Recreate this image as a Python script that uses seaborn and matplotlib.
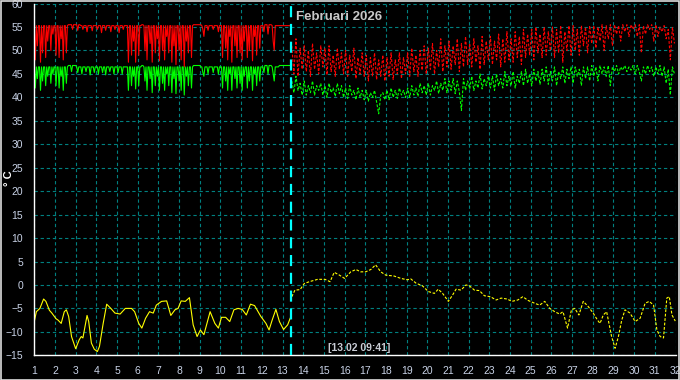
"""Februari 2026 temperature log: supply / return / outdoor."""

import matplotlib

matplotlib.use("Agg")
import matplotlib.pyplot as plt
import numpy as np
import seaborn as sns
from matplotlib.patches import Rectangle
from matplotlib.ticker import MultipleLocator

# supply (red) and return (green), logged every 0.05 day from day 1.00 to 13.35
supply_measured = [
    55.3, 48, 55.3, 51, 55.3, 55.3, 47.5, 55.3, 49.5, 55.3, 55.3, 48.5, 55.3, 52, 55.3, 55.3, 50, 55.3, 53.5, 55.3,
    55.3, 49, 55.3, 55.3, 48.5, 55.3, 52.5, 55.3, 48, 55.3, 55.3, 49.5, 55.3, 55.5, 55.5, 55.5, 55.5, 54.5, 55.5, 55.5,
    55.5, 55.5, 54.3, 55.5, 55.5, 55.3, 55.3, 54.5, 55.3, 55.3, 55.3, 54, 55.3, 55.3, 55.3, 55.3, 54.2, 55.3, 55.3, 55.3,
    55.3, 54.5, 55.3, 55.3, 55.3, 53.8, 55.3, 55.3, 55.3, 54.3, 55.3, 55.3, 55.3, 55.3, 54, 55.3, 55.3, 55.3, 54.5, 55.3,
    55.3, 55.3, 53.8, 55.3, 55.3, 55.3, 54.5, 55.3, 55.3, 55.3, 55.3, 47.5, 55.3, 55.3, 49, 55.3, 52, 55.3, 47.5, 55.3,
    55.3, 49, 55.3, 55.3, 55.5, 55.5, 55.3, 50, 55.3, 48, 55.3, 55.3, 51.5, 55.3, 47.5, 55.3, 55.3, 49.5, 55.3, 52.5,
    55.3, 47.8, 55.3, 55.3, 50, 55.3, 48, 55.3, 53, 55.3, 49.5, 55.3, 55.3, 47.5, 55.3, 51, 55.3, 47, 55.3, 55.3,
    50, 55.3, 48, 55.3, 55.3, 46.5, 55.3, 52, 55.3, 49.5, 55.3, 55.3, 48.5, 55.3, 55.5, 55.5, 55.5, 55.5, 55.5, 55.5,
    55.5, 55.5, 55.3, 54.5, 53, 55.3, 55.3, 55.3, 54.3, 55.3, 55.3, 55.3, 55.3, 54.5, 55.3, 55.3, 55.3, 55.3, 54, 55.3,
    55.3, 55.3, 48.5, 55.3, 55.3, 50.5, 55.3, 48, 55.3, 53, 55.3, 47.5, 55.3, 55.3, 51, 55.3, 48.5, 55.3, 55.3, 49.5,
    55.3, 48, 55.3, 52, 55.3, 55.3, 48.5, 55.3, 50, 55.3, 55.3, 47.8, 55.3, 53, 55.3, 49, 55.3, 55.3, 50.5, 55.3,
    55.3, 55.3, 54, 55.5, 55.5, 55.5, 53.5, 55.5, 55.5, 55.5, 55.3, 52, 50, 55.3, 55.3, 55.3, 55.3, 55.3, 55.3, 55.3,
    55.3, 55.3, 55.3, 55.3, 55.3, 55.3, 55.3, 55.3,
]
return_measured = [
    46.5, 42, 46.5, 44, 46.5, 46.5, 41.5, 46.5, 43.5, 46.5, 46.5, 42.5, 46.5, 44.5, 46.5, 46.5, 43, 46.5, 45, 46.5,
    46.5, 42.5, 46.5, 46.5, 42, 46.5, 44.5, 46.5, 41.5, 46.5, 46.5, 43, 46.5, 46.8, 46.8, 46.8, 45.5, 46.8, 46.8, 46.8,
    46.8, 46.5, 45.3, 46.5, 46.5, 46.5, 45, 46.5, 46.5, 46.5, 45.5, 46.5, 46.5, 46.5, 44.8, 46.5, 46.5, 46.5, 45.3, 46.5,
    46.5, 46.5, 45, 46.5, 46.5, 46.5, 45.3, 46.5, 46.5, 44.8, 46.5, 46.5, 46.5, 45.5, 46.5, 46.5, 46.5, 45, 46.5, 46.5,
    46.5, 45.3, 46.5, 46.5, 46.5, 45, 46.5, 46.5, 46.5, 46.5, 46.5, 41.5, 46.5, 46.5, 42.5, 46.5, 44.5, 46.5, 41.8, 46.5,
    46.5, 42.5, 46.5, 46.5, 46.8, 46.8, 46.5, 43.5, 46.5, 41.5, 46.5, 46.5, 44, 46.5, 41, 46.5, 46.5, 42.5, 46.5, 44.5,
    46.5, 41.5, 46.5, 46.5, 43, 46.5, 41.5, 46.5, 45, 46.5, 42.5, 46.5, 46.5, 41, 46.5, 44, 46.5, 40.8, 46.5, 46.5,
    43.5, 46.5, 41.5, 46.5, 46.5, 40.5, 46.5, 44.5, 46.5, 42.5, 46.5, 46.5, 42, 46.5, 46.8, 46.8, 46.8, 46.8, 46.8, 46.8,
    46.8, 46.5, 46.5, 45.3, 44.5, 46.5, 46.5, 46.5, 45, 46.5, 46.5, 46.5, 46.5, 45.3, 46.5, 46.5, 46.5, 46.5, 45, 46.5,
    46.5, 46.5, 42, 46.5, 46.5, 43.5, 46.5, 41.5, 46.5, 45, 46.5, 41.5, 46.5, 46.5, 44, 46.5, 42, 46.5, 46.5, 43,
    46.5, 41.5, 46.5, 44.5, 46.5, 46.5, 42, 46.5, 43.5, 46.5, 46.5, 41.5, 46.5, 45, 46.5, 42.5, 46.5, 46.5, 43.5, 46.5,
    46.5, 46.5, 45.3, 46.8, 46.8, 46.8, 45, 46.8, 46.8, 46.8, 46.5, 45, 43.5, 46.5, 46.5, 46.5, 46.5, 46.8, 46.8, 46.8,
    46.8, 46.8, 46.8, 46.8, 46.8, 46.8, 46.8, 46.8,
]

# after 13.02 09:41 the log is sparser: every 0.1 day from 13.45 to 31.95
supply_later = [
    51, 45, 52.5, 44.5, 50.5, 46,
    51, 45.5, 50, 44.5, 51.5, 46, 49.5, 45, 51, 46.5,
    50.5, 44.8, 51, 45.5, 49, 44.5, 50.5, 46, 49.5, 45,
    50, 44.5, 49, 45.5, 50.5, 44, 48.5, 45, 49.5, 44.5,
    49, 43.5, 48.5, 44.5, 49.5, 43.8, 48, 44.5, 49, 43.5,
    48.5, 44.5, 49.5, 43.8, 48, 45, 49.5, 44, 48.5, 45,
    49.5, 44.5, 50.5, 45.5, 49, 44.5, 50, 45.8, 51, 45,
    50.5, 46, 51.5, 45, 50, 46.5, 52.5, 45.5, 51, 46.5,
    52, 46, 51, 47, 52.5, 45.5, 51.5, 46.5, 53, 47,
    51.5, 46.5, 52.5, 47.5, 51, 46, 53, 47, 52, 48,
    53, 47, 52, 48, 53.5, 46.5, 52.5, 47.5, 54, 48,
    52.5, 47.5, 54, 48.5, 53, 47, 54.5, 48.5, 53.5, 49,
    54.5, 48, 55, 49.5, 53.5, 48.5, 55, 49, 54, 50,
    55, 48.5, 54.5, 49.5, 55.3, 47.5, 54, 50, 55.3, 49,
    55.3, 50, 54.5, 49, 55.3, 51, 55, 49.5, 55.3, 51.5,
    55.3, 50.5, 55, 52, 55.5, 50, 55.3, 52.5, 55.5, 51,
    55.5, 53.5, 55.3, 52, 55.5, 54, 55.5, 53, 55.5, 54.5,
    55.5, 53, 55.5, 49.5, 55.3, 53.5, 55.5, 54.5, 55.5, 52,
    55.5, 53, 55, 54, 55.3, 52.5, 54.5, 48, 55, 51.5,
]
return_later = [
    43.5, 41, 44.5, 41.5, 43, 40.5,
    43.5, 40.5, 42.5, 41, 43.5, 40.5, 42.5, 41.5, 43, 40.5,
    42.5, 40, 43, 41, 42, 40.2, 43, 40.8, 42.5, 40,
    42, 39.8, 42.5, 40.5, 41.5, 39.5, 42, 40, 41.5, 39.5,
    41.5, 39.2, 41, 40, 41.5, 39, 36.5, 40.5, 41, 39.5,
    41.5, 39.5, 42, 40, 41.5, 39.8, 42, 40.5, 41.5, 40,
    42, 40, 42.5, 40.5, 42, 40.2, 43, 41, 42.5, 40.5,
    43, 40.5, 42.5, 41.5, 43.5, 40.8, 43, 41.5, 44, 41,
    43.5, 41.5, 44, 40.8, 43.5, 41.2, 37.2, 44, 41.5, 43.5,
    41.8, 44.5, 41.5, 43.5, 42, 45, 41.8, 44, 42.5, 44.5,
    42, 44.5, 41.5, 45, 42.5, 44, 42, 45.5, 42.5, 44.5,
    42.5, 45.5, 42, 44.5, 43, 45.5, 42.5, 46, 43, 45,
    42.5, 46, 43.5, 45.5, 42.8, 46, 43.5, 46.5, 42.8, 45.5,
    43.5, 46.5, 42.5, 45.5, 44, 46.5, 43, 46, 44, 46.5,
    43, 46.5, 44.5, 46, 42.5, 46.5, 44, 46.5, 43.5, 46.8,
    44.5, 46.5, 43.5, 46.8, 45, 46.5, 44.5, 46.8, 42.5, 46.5,
    45.5, 46.8, 45, 46.5, 45.8, 46.8, 45.5, 46.5, 45.8, 46.8,
    45, 46.8, 45.5, 43.5, 46.5, 45, 46.8, 45.5, 46.5, 44.5,
    46.5, 45, 46.8, 44.5, 46.5, 43, 46, 40.5, 46.5, 45,
]

# outdoor temperature (yellow)
outdoor_days_measured = [
    1.0, 1.1, 1.27, 1.45, 1.56, 1.73, 1.85, 2.05, 2.15, 2.3, 2.45, 2.55, 2.66, 2.8, 3.0, 3.17, 3.27, 3.35,
    3.55, 3.63, 3.76, 3.9, 4.05, 4.15, 4.33, 4.5, 4.7, 4.9, 5.15, 5.4, 5.7, 5.85, 6.05, 6.2, 6.38, 6.57,
    6.75, 6.9, 7.15, 7.4, 7.6, 7.8, 7.95, 8.1, 8.3, 8.5, 8.68, 8.87, 9.03, 9.2, 9.5, 9.73, 9.9, 10.05,
    10.25, 10.45, 10.65, 10.85, 11.05, 11.25, 11.45, 11.65, 11.95, 12.2, 12.35, 12.5, 12.68, 12.85,
    13.05, 13.25, 13.38,
]
outdoor_measured = [
    -7.8, -5.7, -5, -3, -3.5, -5.4, -6, -7.2, -7.5, -8.2, -5.7, -5.3, -6.7, -11, -13.6, -11.7, -11, -11.3,
    -6.5, -7.8, -12.4, -13.7, -14.2, -13.1, -8.2, -4.1, -5, -6, -6.2, -5, -5, -5.7, -8.2, -9.2, -7.1, -5.7,
    -6, -4.3, -3.5, -3.4, -6.5, -5.3, -5, -3.4, -3.5, -2.7, -8.5, -11, -9.6, -10.6, -5.7, -8.2, -9.2, -6.9,
    -6.9, -7.8, -5.3, -5, -5.2, -6.4, -4.1, -4.4, -6.7, -8.2, -9.6, -7.5, -5.2, -7.8,
    -9.5, -8.5, -7.0,
]
outdoor_days_later = [
    13.45, 13.6, 13.85, 14.05, 14.3, 14.7, 15.05, 15.3, 15.5, 15.75, 16.0, 16.3, 16.55, 16.78, 17.02,
    17.27, 17.5, 17.75, 17.99, 18.4, 18.72, 19.04, 19.2, 19.45, 19.77, 20.05, 20.34, 20.53, 20.74, 21.02,
    21.23, 21.39, 21.63, 21.87, 22.04, 22.28, 22.52, 22.76, 23.05, 23.33, 23.57, 23.86, 24.09, 24.38,
    24.62, 24.87, 25.19, 25.43, 25.68, 25.92, 26.16, 26.4, 26.56, 26.78, 26.97, 27.13, 27.33, 27.54,
    27.78, 28.02, 28.23, 28.35, 28.51, 28.67, 28.91, 29.08, 29.24, 29.4, 29.56, 29.8, 30.05, 30.29,
    30.53, 30.73, 30.94, 31.1, 31.26, 31.42, 31.58, 31.7, 31.83, 31.99,
]
outdoor_later = [
    -2.5, -1.1, -1, 0.3, 0.7, 1.2, 1.2, 0.7, 2.7, 2.1, 1.4, 2.8, 3.3, 2.8, 2.8,
    3.3, 4.3, 2.8, 2.1, 1.9, 1.4, 1.1, 1.3, 0.4, -0.2, -1.4, -1.8, -0.9, -1.8, -3.5,
    -2.1, -0.9, -1.1, 0, -0.2, -1.1, -1.2, -2.3, -2.5, -3.2, -2.8, -3, -3.5, -3.2,
    -2.5, -3.3, -3.9, -4.3, -3.5, -5, -5.7, -6.2, -5.7, -9.2, -5.3, -5, -6.4, -3.5,
    -4.6, -6, -7.5, -8.2, -6.4, -5.7, -11, -13.5, -11, -7.5, -5.3, -6, -7.8, -7.1,
    -3.9, -3.5, -4.3, -9.6, -11, -11.3, -2.8, -2.5, -6.4, -7.7,
]

marker_day = 13 + (9 + 41 / 60) / 24
marker_label = "[13.02 09:41]"
title = "Februari 2026"

measured_days = 1 + 0.05 * np.arange(len(supply_measured))
later_days = 13.45 + 0.1 * np.arange(len(supply_later))

sns.set_style("dark")
plt.rcParams["font.family"] = ["Liberation Sans", "DejaVu Sans"]

fig = plt.figure(figsize=(6.8, 3.8), dpi=100, facecolor="black")
ax = fig.add_axes([34.3 / 680, 1 - 355.3 / 380, (675.5 - 34.3) / 680, (355.3 - 3.6) / 380])
ax.set_facecolor("black")

dash = (0, (2.5, 1.5))
for days, vals, color, style in [
    (measured_days, supply_measured, "#ff0000", "-"),
    (measured_days, return_measured, "#00ff00", "-"),
    (later_days, supply_later, "#ff0000", dash),
    (later_days, return_later, "#00ff00", dash),
    (outdoor_days_measured, outdoor_measured, "#ffff00", "-"),
    (outdoor_days_later, outdoor_later, "#ffff00", dash),
]:
    sns.lineplot(x=days, y=vals, ax=ax, color=color, lw=0.8, linestyle=style, estimator=None)

ax.axvline(marker_day, color="#00ffff", lw=1.6, linestyle=(0, (5, 3)), zorder=5)

ax.set_xlim(1, 32)
ax.set_ylim(-15, 60)
ax.xaxis.set_major_locator(MultipleLocator(1))
ax.xaxis.set_minor_locator(MultipleLocator(0.25))
ax.yaxis.set_major_locator(MultipleLocator(5))
ax.yaxis.set_minor_locator(MultipleLocator(1))
ax.grid(which="major", color="#008080", linestyle=(0, (3, 2.5)), lw=0.8)
ax.grid(which="minor", visible=False)
ax.set_axisbelow(True)

tick_text = "#c8d2e6"
ax.tick_params(which="major", direction="out", length=6, width=1, color="white",
               labelcolor=tick_text, labelsize=7.5, pad=2)
ax.tick_params(which="minor", direction="out", length=3.5, width=1, color="white")
for side in ["top", "right"]:
    ax.spines[side].set_visible(False)
for side in ["left", "bottom"]:
    ax.spines[side].set_color("white")
    ax.spines[side].set_linewidth(1)
ax.set_xlabel("")
ax.set_ylabel("")

fig.text(9 / 680, 1 - 178 / 380, "° C", rotation=90, color="white", fontsize=8,
         fontweight="bold", ha="center", va="center")
fig.text(296 / 680, 1 - 17 / 380, title, color="#c8c8c8", fontsize=9.5,
         fontweight="bold", ha="left", va="center")
fig.text(328 / 680, 1 - 348 / 380, marker_label, color="#c8ccd4", fontsize=7.5,
         fontweight="bold", ha="left", va="center")

fig.patches.append(Rectangle((0.001, 0.001), 0.997, 0.997, transform=fig.transFigure,
                             fill=False, edgecolor="#dddddd", lw=1.2))

fig.savefig("out.png", dpi=100, facecolor="black")
plt.close(fig)
